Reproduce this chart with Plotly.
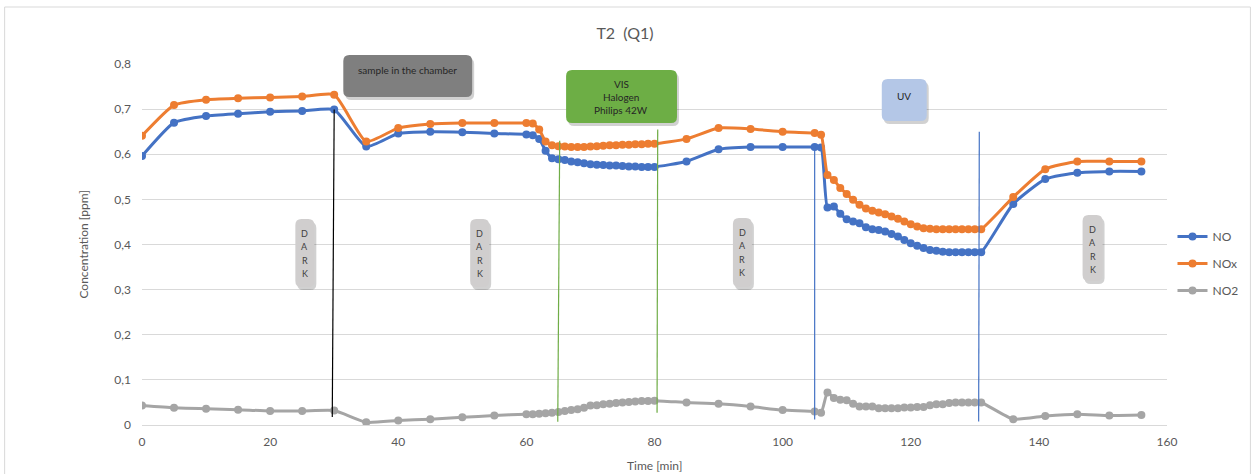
import plotly.graph_objects as go

# Sampling times [min]
time_min = ([0, 5, 10, 15, 20, 25, 30, 35, 40, 45, 50, 55]
            + list(range(60, 81))
            + [85, 90, 95, 100]
            + list(range(105, 132))
            + [136, 141, 146, 151, 156])

no_ppm = ([0.596, 0.670, 0.685, 0.690, 0.694, 0.696, 0.699, 0.617, 0.646, 0.650, 0.649, 0.646]
          + [0.644, 0.642, 0.634, 0.608, 0.591, 0.589, 0.587, 0.584, 0.582, 0.580, 0.578,
             0.577, 0.576, 0.575, 0.575, 0.574, 0.573, 0.573, 0.572, 0.572, 0.572]
          + [0.584, 0.611, 0.616, 0.616]
          + [0.616, 0.615, 0.482, 0.484, 0.468, 0.456, 0.451, 0.447, 0.438, 0.434, 0.432,
             0.429, 0.423, 0.418, 0.410, 0.403, 0.397, 0.392, 0.388, 0.386, 0.384, 0.383,
             0.383, 0.383, 0.383, 0.383, 0.383]
          + [0.490, 0.545, 0.559, 0.562, 0.562])

nox_ppm = ([0.641, 0.709, 0.721, 0.724, 0.726, 0.728, 0.732, 0.628, 0.658, 0.667, 0.669, 0.669]
           + [0.669, 0.668, 0.655, 0.628, 0.620, 0.618, 0.617, 0.616, 0.616, 0.616, 0.617,
              0.618, 0.619, 0.620, 0.620, 0.621, 0.621, 0.622, 0.622, 0.623, 0.623]
           + [0.634, 0.658, 0.656, 0.650]
           + [0.647, 0.643, 0.554, 0.543, 0.525, 0.512, 0.499, 0.488, 0.480, 0.475, 0.471,
              0.467, 0.462, 0.457, 0.451, 0.445, 0.440, 0.436, 0.435, 0.434, 0.434, 0.434,
              0.434, 0.434, 0.434, 0.434, 0.434]
           + [0.505, 0.567, 0.584, 0.584, 0.584])

no2_ppm = ([0.043, 0.038, 0.036, 0.034, 0.031, 0.031, 0.032, 0.006, 0.010, 0.013, 0.017, 0.021]
           + [0.024, 0.024, 0.025, 0.026, 0.027, 0.029, 0.031, 0.033, 0.035, 0.038, 0.043,
              0.044, 0.046, 0.047, 0.049, 0.050, 0.051, 0.052, 0.053, 0.053, 0.054]
           + [0.050, 0.047, 0.041, 0.033]
           + [0.030, 0.027, 0.072, 0.060, 0.056, 0.055, 0.047, 0.041, 0.041, 0.041, 0.037,
              0.037, 0.037, 0.037, 0.039, 0.039, 0.040, 0.040, 0.044, 0.046, 0.046, 0.049,
              0.050, 0.050, 0.050, 0.050, 0.050]
           + [0.013, 0.020, 0.024, 0.021, 0.022])

series_names = ["NO", "NOx", "NO2"]
series_colors = ["#4472C4", "#ED7D31", "#A5A5A5"]

x_ticks = [0, 20, 40, 60, 80, 100, 120, 140, 160]
y_ticks = [0, 0.1, 0.2, 0.3, 0.4, 0.5, 0.6, 0.7, 0.8]

# Phase markers: (time at top, time at bottom, from, to, colour)
phase_lines = [
    (30.0, 29.7, 0.699, 0.018, "#000000"),
    (65.2, 64.9, 0.630, 0.007, "#70AD47"),
    (80.5, 80.4, 0.655, 0.027, "#70AD47"),
    (105.0, 105.0, 0.622, 0.012, "#4472C4"),
    (130.7, 130.6, 0.650, 0.008, "#4472C4"),
]

FONT = "Lato"
TXT = "#595959"

# Plot area in page pixels
L, R, T, B = 141.5, 1167.5, 64, 425
W, H = 1259, 474


def px(p):
    return (p - L) / (R - L)


def py(p):
    return (B - p) / (B - T)


def rounded_box(x0, y0, x1, y1, r=6):
    rx = r / (R - L)
    ry = r / (B - T)
    a, b, c, d = px(x0), px(x1), py(y0), py(y1)
    return (f"M {a + rx},{c} L {b - rx},{c} Q {b},{c} {b},{c - ry} "
            f"L {b},{d + ry} Q {b},{d} {b - rx},{d} L {a + rx},{d} "
            f"Q {a},{d} {a},{d + ry} L {a},{c - ry} Q {a},{c} {a + rx},{c} Z")


fig = go.Figure()
for name, ys, col in zip(series_names, [no_ppm, nox_ppm, no2_ppm], series_colors):
    fig.add_trace(go.Scatter(
        x=time_min, y=ys, name=name, mode="lines+markers",
        line=dict(color=col, width=3, shape="spline", smoothing=0.5),
        marker=dict(color=col, size=8),
        legendgroup=name,
    ))

shapes = []
# outer chart border
shapes.append(dict(type="rect", xref="paper", yref="paper",
                   x0=px(4), x1=px(1251), y0=py(7), y1=py(490),
                   line=dict(color="#D9D9D9", width=1), fillcolor="rgba(0,0,0,0)", layer="below"))

for xa, xb, ya, yb, col in phase_lines:
    shapes.append(dict(type="line", xref="x", yref="y", x0=xa, x1=xb, y0=ya, y1=yb,
                       line=dict(color=col, width=1.2), layer="above"))

# label boxes: (x0, y0, x1, y1, fill)
boxes = [
    (343, 55, 472, 97, "#7F7F7F"),
    (566, 70, 677, 123, "#6DAE45"),
    (882, 79, 927, 121, "#B4C7E7"),
    (295, 219, 314, 287, "#D0CECE"),
    (470, 219, 489, 287, "#D0CECE"),
    (733, 218, 752, 287, "#D0CECE"),
    (1083, 215, 1103, 281, "#D0CECE"),
]
for x0, y0, x1, y1, fill in boxes:
    shapes.append(dict(type="path", xref="paper", yref="paper",
                       path=rounded_box(x0 + 2, y0 + 3, x1 + 2, y1 + 3),
                       fillcolor="rgba(0,0,0,0.18)", line=dict(width=0), layer="above"))
    shapes.append(dict(type="path", xref="paper", yref="paper",
                       path=rounded_box(x0, y0, x1, y1),
                       fillcolor=fill, line=dict(width=0), layer="above"))

annotations = []


def label(text, x, y, size=10, color="#262626", **kw):
    annotations.append(dict(text=text, x=px(x), y=py(y), xref="paper", yref="paper",
                            showarrow=False, font=dict(family=FONT, size=size, color=color),
                            xanchor="center", yanchor="middle", **kw))


label("sample in the chamber", 407, 70)
label("VIS", 621, 84)
label("Halogen", 621, 97)
label("Philips 42W", 621, 110)
label("UV", 904, 96)
for cx, top in [(304.5, 233), (479.5, 233), (742.5, 232), (1093, 229)]:
    for i, ch in enumerate("DARK"):
        label(ch, cx, top + i * 13.5, size=9, color="#404040")

label("Concentration [ppm]", 82, 245, size=12, color=TXT, textangle=-90)
label("Time [min]", 654, 465, size=12, color=TXT)

fig.update_layout(
    width=W, height=H,
    margin=dict(l=L, r=W - R, t=T, b=H - B),
    paper_bgcolor="white", plot_bgcolor="white",
    font=dict(family=FONT, size=12, color=TXT),
    separators=",.",
    title=dict(text="T2\u00a0\u00a0(Q1)", x=625 / W, xref="container", xanchor="center",
               y=1 - 33 / H, yref="container", yanchor="middle",
               font=dict(family=FONT, size=16, color=TXT)),
    xaxis=dict(range=[0, 160], tickvals=x_ticks, showgrid=False, zeroline=False,
               showline=True, linecolor="#D9D9D9", linewidth=1, ticks="",
               ticklabelstandoff=6, tickfont=dict(size=12, color=TXT)),
    yaxis=dict(range=[0, 0.8], tickvals=y_ticks, showgrid=True, gridcolor="#D9D9D9",
               gridwidth=1, zeroline=False, ticks="", ticklabelstandoff=10,
               tickfont=dict(size=12, color=TXT)),
    legend=dict(x=px(1173), xanchor="left", y=py(222), yanchor="top",
                bgcolor="rgba(0,0,0,0)", tracegroupgap=8, itemwidth=30,
                font=dict(family=FONT, size=12, color=TXT)),
    shapes=shapes,
    annotations=annotations,
)

fig.write_html("out.html")
